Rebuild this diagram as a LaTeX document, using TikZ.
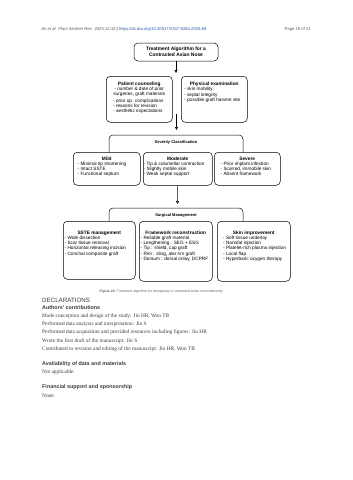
\documentclass[tikz,border=0pt]{standalone}
\usepackage{fontspec}
\setmainfont{Liberation Serif}
\newfontfamily\arialf{Liberation Sans}
\usetikzlibrary{arrows.meta}
\definecolor{linkblue}{RGB}{40,90,170}
\definecolor{hdrgray}{RGB}{90,90,90}
\definecolor{txtgray}{RGB}{60,60,60}
\tikzset{
  box/.style={draw, rounded corners=4pt, line width=0.5pt, fill=white, inner sep=0pt, anchor=north west},
  frame/.style={draw, rounded corners=4pt, line width=0.5pt},
  ttl/.style={font=\arialf\bfseries\fontsize{4.8}{5.4}\selectfont, anchor=north, inner sep=0pt, align=center},
  ftl/.style={font=\arialf\bfseries\fontsize{4.0}{5}\selectfont, anchor=north, inner sep=0pt, align=center},
  lst/.style={font=\arialf\fontsize{4.7}{5.3}\selectfont, align=left, anchor=north west, inner sep=0pt},
  arr/.style={line width=0.5pt, -{Triangle[open,length=3pt,width=3pt]}},
  body/.style={font=\fontsize{5.35}{7}\selectfont, text=txtgray, anchor=west, inner sep=0pt},
  head/.style={font=\arialf\bfseries\fontsize{5.4}{6}\selectfont, text=txtgray, anchor=west, inner sep=0pt}
}
\begin{document}
\begin{tikzpicture}[x=1pt,y=-1pt]
\useasboundingbox[fill=white] (0,0) rectangle (353,480);

% header
\node[anchor=west, inner sep=0pt, font=\arialf\fontsize{4.2}{5}\selectfont, text=hdrgray] (hdr) at (41,29)
  {Jin \textit{et al. Plast Aesthet Res.} 2025;12:33 \textbf{|} \textcolor{linkblue}{https://dx.doi.org/10.20517/2347-9264.2025.68}};
\node[anchor=east, inner sep=0pt, font=\arialf\fontsize{4.2}{5}\selectfont, text=hdrgray] (pg) at (311,29) {Page 19 of 21};

% top box
\node[box, anchor=center, minimum width=84pt, minimum height=18pt, font=\arialf\bfseries\fontsize{4.9}{5.8}\selectfont, align=center] (top) at (176,52)
  {Treatment Algorithm for a\\Contracted Asian Nose};
\coordinate (c1) at (176,73);
\draw[arr] (top.south) -- (c1);

% counseling / exam
\node[box, minimum width=66pt, minimum height=46pt] (pat) at (106,76) {};
\node[ttl] (patt) at ([yshift=-5.5pt]pat.north) {Patient counseling\\[-0.4pt]\mdseries\fontsize{4.7}{5.3}\selectfont - number \& date of prior\\\mdseries\fontsize{4.7}{5.3}\selectfont surgeries, graft materials};
\node[lst] (patl) at (113,98.4) {- prior op. complications\\- reasons for revision\\- aesthetic expectations};

\node[box, minimum width=66pt, minimum height=46pt] (phy) at (181,76) {};
\node[ttl] (phyt) at ([yshift=-5.5pt]phy.north) {Physical examination};
\node[lst] (phyl) at (184,87.3) {- skin mobility\\- septal integrity\\- possible graft harvest site};

\coordinate (c2) at (176.5,114);
\coordinate (c3) at (176.5,130);
\draw[arr] (c2) -- (c3);

% severity
\draw[frame] (109,152) |- (176,135) -| (243,152);
\node[ftl] (sev) at (176,140.8) {Severity Classification};

\node[box, minimum width=67pt, minimum height=33pt] (mild) at (73,152) {};
\node[ttl] (mildt) at ([yshift=-5pt]mild.north) {Mild};
\node[lst] (mildl) at (77.5,161.5) {- Minimal tip shortening\\- Intact SSTE\\- Functional septum};

\node[box, minimum width=69pt, minimum height=33pt] (mod) at (143,152) {};
\node[ttl] (modt) at ([yshift=-5pt]mod.north) {Moderate};
\node[lst] (modl) at (143.5,161.5) {- Tip \& columellar contraction\\- Slightly mobile skin\\- Weak septal support};

\node[box, minimum width=66pt, minimum height=33pt] (sev3) at (214,152) {};
\node[ttl] (sevt) at ([yshift=-5pt]sev3.north) {Severe};
\node[lst] (sevl) at (220.5,161.5) {- Prior implant infection\\- Scarred, immobile skin\\- Absent framework};

\coordinate (c4) at (177.5,204);
\draw[arr] (mod.south) -- (c4);

% surgical
\draw[frame] (109,221) |- (176,208) -| (243,221);
\node[ftl] (surg) at (176,213.8) {Surgical Management};

\node[box, minimum width=72pt, minimum height=58pt] (sste) at (63,221) {};
\node[ttl] (sstet) at ([yshift=-9.5pt]sste.north) {SSTE management};
\node[lst] (sstel) at (64.5,235.5) {- Wide dissection\\- Scar tissue removal\\- Horizontal releasing incision\\- Conchal composite graft};

\node[box, minimum width=73pt, minimum height=60pt] (fw) at (139,221) {};
\node[ttl] (fwt) at ([yshift=-9.5pt]fw.north) {Framework reconstruction};
\node[lst] (fwl) at (140.5,235.5) {- Reliable graft material\\- Lengthening : SEG + ESG\\- Tip : shield, cap graft\\- Rim : sling, alar rim graft\\- Dorsum : dorsal onlay, DCPRF};

\node[box, minimum width=73pt, minimum height=60pt] (skin) at (217,221) {};
\node[ttl] (skint) at ([yshift=-9.5pt]skin.north) {Skin improvement};
\node[lst] (skinl) at (223,235.5) {- Soft tissue underlay\\- Nanofat injection\\- Platelet-rich plasma injection\\- Local flap\\- Hyperbaric oxygen therapy};

% caption
\node[inner sep=0pt, font=\arialf\fontsize{3.4}{4}\selectfont, text=hdrgray] (cap) at (161.5,292)
  {\textbf{Figure 20.} Treatment algorithm for rhinoplasty in contracted Asian nose deformity.};

% declarations
\node[anchor=west, inner sep=0pt, font=\arialf\fontsize{6.2}{7}\selectfont, text=txtgray] (decl) at (42,300) {DECLARATIONS};
\node[head] (h1) at (42,307.5) {Authors' contributions};
\node[body] (b1) at (42,316) {Made conception and design of the study: Jin HR, Won TB};
\node[body] (b2) at (42,324.3) {Performed data analysis and interpretation: Jin S};
\node[body] (b3) at (42,332.6) {Performed data acquisition and provided resources including figures: Jin HR};
\node[body] (b4) at (42,340.9) {Wrote the first draft of the manuscript: Jin S};
\node[body] (b5) at (42,349.2) {Contributed to revision and editing of the manuscript: Jin HR, Won TB};
\node[head] (h2) at (42,364) {Availability of data and materials};
\node[body] (b6) at (42,372.5) {Not applicable.};
\node[head] (h3) at (42,387) {Financial support and sponsorship};
\node[body] (b7) at (42,395.5) {None.};
\end{tikzpicture}
\end{document}
